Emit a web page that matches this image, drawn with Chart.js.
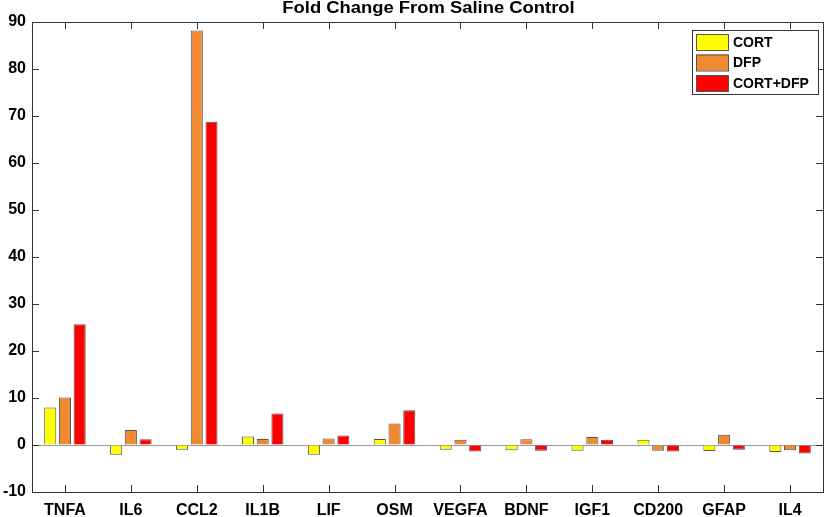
<!DOCTYPE html>
<html>
<head>
<meta charset="utf-8">
<script src="https://cdn.jsdelivr.net/npm/chart.js@4/dist/chart.umd.min.js"></script>
<style>
  html, body { margin: 0; padding: 0; background: #fff; }
  #wrap { width: 829px; height: 517px; }
</style>
</head>
<body>
<div id="wrap"><canvas id="foldChart" width="829" height="517"></canvas></div>
<script>
// categories and fold changes
const genes = ['TNFA', 'IL6', 'CCL2', 'IL1B', 'LIF', 'OSM', 'VEGFA', 'BDNF', 'IGF1', 'CD200', 'GFAP', 'IL4'];
const cort = [8.0, -2.1, -1.0, 1.8, -2.1, 1.3, -1.0, -1.1, -1.2, 1.1, -1.3, -1.5];
const dfp = [10.1, 3.2, 88.2, 1.3, 1.4, 4.6, 1.1, 1.2, 1.7, -1.2, 2.2, -1.1];
const cortDfp = [25.7, 1.2, 68.8, 6.7, 2.0, 7.4, -1.4, -1.2, 1.1, -1.4, -1.0, -1.8];
const yTicks = [-10, 0, 10, 20, 30, 40, 50, 60, 70, 80, 90];

const titleText = 'Fold Change From Saline Control';
const fontFam = '"Liberation Sans", Arial, sans-serif';

// draws the boxed frame, inward ticks, title and legend like the matlab figure
const matlabFrame = {
    id: 'matlabFrame',
    afterDraw(chart) {
        const ctx = chart.ctx;
        const a = chart.chartArea;
        const xs = chart.scales.x;
        const ys = chart.scales.y;
        ctx.save();
        ctx.strokeStyle = '#333';
        ctx.lineWidth = 1;
        ctx.strokeRect(Math.round(a.left) + 0.5, Math.round(a.top) + 0.5, Math.round(a.right - a.left), Math.round(a.bottom - a.top));

        const tl = 7;
        ctx.beginPath();
        yTicks.forEach(v => {
            const y = Math.round(ys.getPixelForValue(v)) + 0.5;
            ctx.moveTo(a.left, y); ctx.lineTo(a.left + tl, y);
            ctx.moveTo(a.right, y); ctx.lineTo(a.right - tl, y);
        });
        genes.forEach((g, i) => {
            const x = Math.round(xs.getPixelForTick(i)) + 0.5;
            ctx.moveTo(x, a.bottom); ctx.lineTo(x, a.bottom - tl);
            ctx.moveTo(x, a.top); ctx.lineTo(x, a.top + tl);
        });
        ctx.stroke();

        // title - matlab's bold face is wider, so stretch it a little
        ctx.save();
        ctx.fillStyle = '#000';
        ctx.font = 'bold 16px ' + fontFam;
        ctx.textAlign = 'center';
        ctx.textBaseline = 'middle';
        ctx.translate((a.left + a.right) / 2 + 1, 9);
        ctx.scale(1.15, 1);
        ctx.fillText(titleText, 0, 0);
        ctx.restore();

        // legend box
        const lx = 692, ly = 30, lw = 126, lh = 64;
        ctx.fillStyle = '#fff';
        ctx.fillRect(lx, ly, lw, lh);
        ctx.strokeStyle = '#333';
        ctx.strokeRect(lx + 0.5, ly + 0.5, lw, lh);
        ctx.font = 'bold 14px ' + fontFam;
        ctx.textAlign = 'left';
        ctx.textBaseline = 'middle';
        chart.data.datasets.forEach((ds, i) => {
            const ry = ly + 4 + i * 20.5;
            ctx.fillStyle = ds.backgroundColor;
            ctx.fillRect(lx + 4, ry, 32, 16);
            ctx.strokeStyle = '#555';
            ctx.strokeRect(lx + 4.5, ry + 0.5, 32, 16);
            ctx.fillStyle = '#000';
            ctx.fillText(ds.label, lx + 41, ry + 9);
        });
        ctx.restore();
    }
};

const ctx = document.getElementById('foldChart').getContext('2d');
new Chart(ctx, {
    type: 'bar',
    data: {
        labels: genes,
        datasets: [
            { label: 'CORT', data: cort, backgroundColor: '#ffff00' },
            { label: 'DFP', data: dfp, backgroundColor: '#ef8a33' },
            { label: 'CORT+DFP', data: cortDfp, backgroundColor: '#ff0000' }
        ].map(d => Object.assign(d, { borderColor: '#555', borderWidth: 1, categoryPercentage: 0.67, barPercentage: 0.82 }))
    },
    options: {
        responsive: false,
        animation: false,
        layout: { padding: { top: 22, right: 6, left: 0, bottom: 0 } },
        plugins: {
            legend: { display: false },
            title: { display: false },
            tooltip: { enabled: false }
        },
        scales: {
            x: {
                grid: { display: false },
                border: { display: false },
                ticks: { color: '#000', font: { family: fontFam, size: 16, weight: 'bold' }, padding: 1, maxRotation: 0 },
                afterFit(scale) { scale.height = 25; }
            },
            y: {
                min: -10,
                max: 90,
                afterBuildTicks(scale) { scale.ticks = yTicks.map(v => ({ value: v })); },
                grid: {
                    drawTicks: false,
                    color: c => (c.tick && c.tick.value === 0 ? '#999' : 'rgba(0,0,0,0)')
                },
                border: { display: false },
                ticks: { color: '#000', font: { family: fontFam, size: 16, weight: 'bold' }, padding: 6 },
                afterFit(scale) { scale.width = 32; }
            }
        }
    },
    plugins: [matlabFrame]
});
</script>
</body>
</html>
